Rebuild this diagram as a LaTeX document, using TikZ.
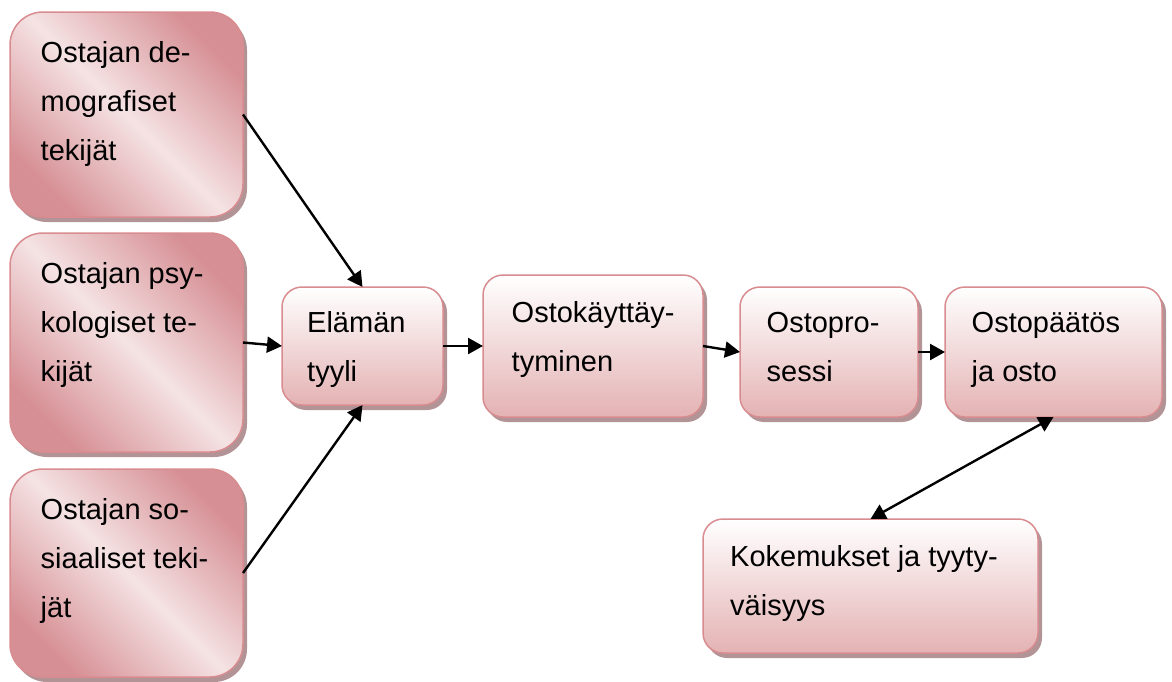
\documentclass[tikz,border=0pt]{standalone}
\usepackage{fontspec}
\setmainfont{Liberation Sans}
\usetikzlibrary{arrows.meta,shadows}

\definecolor{edgepink}{HTML}{D88C90}
\definecolor{shadowmauve}{HTML}{B39496}
\definecolor{deeppink}{HTML}{D68F94}
\definecolor{palepink}{HTML}{F5E3E4}
\definecolor{basepink}{HTML}{E4B2B3}

\tikzset{
  box/.style={rectangle, draw=edgepink, line width=1.5pt, outer sep=0pt, inner sep=0pt,
    anchor=north west,
    drop shadow={shadow xshift=4pt, shadow yshift=-5pt, fill=shadowmauve, opacity=1}},
  factor/.style={box, rounded corners=33pt,
    top color=deeppink, bottom color=deeppink, middle color=palepink, shading angle=-45},
  stage/.style={box, rounded corners=20pt, top color=white, bottom color=basepink},
  txt/.style={anchor=base west, inner sep=0pt, font=\fontsize{29}{49}\selectfont},
  link/.style={-{Triangle[length=15pt,width=16pt]}, line width=2.4pt},
  twoway/.style={{Triangle[length=15pt,width=16pt]}-{Triangle[length=15pt,width=16pt]}, line width=2.4pt},
}

\begin{document}
\begin{tikzpicture}[x=1pt, y=-1pt]
\useasboundingbox (0,0) rectangle (1172,681);

% factors on the left
\node[factor, minimum width=233pt, minimum height=205pt] (demo) at (10,12) {};
\node[factor, minimum width=233pt, minimum height=219pt] (psyk) at (10,233) {};
\node[factor, minimum width=233pt, minimum height=208pt] (sos)  at (10,469) {};

% stages of the process
\node[stage, minimum width=161pt, minimum height=118pt] (elama)    at (282,287) {};
\node[stage, minimum width=220pt, minimum height=142pt] (kaytt)    at (483,275) {};
\node[stage, minimum width=178pt, minimum height=130pt] (prosessi) at (740,287) {};
\node[stage, minimum width=217pt, minimum height=130pt] (paatos)   at (945,287) {};
\node[stage, minimum width=335pt, minimum height=134pt] (koke)     at (703,519) {};

% box texts
\node[txt] (tdemo) at (40.5,62.7) {\begin{tabular}[t]{@{}l@{}}Ostajan de-\\mografiset\\tekijät\end{tabular}};
\node[txt] (tpsyk) at (40.5,283.3) {\begin{tabular}[t]{@{}l@{}}Ostajan psy-\\kologiset te-\\kijät\end{tabular}};
\node[txt] (tsos)  at (40.5,519) {\begin{tabular}[t]{@{}l@{}}Ostajan so-\\siaaliset teki-\\jät\end{tabular}};
\node[txt] (telama) at (307,332.7) {\begin{tabular}[t]{@{}l@{}}Elämän\\tyyli\end{tabular}};
\node[txt] (tkaytt) at (511.5,322.7) {\begin{tabular}[t]{@{}l@{}}Ostokäyttäy-\\tyminen\end{tabular}};
\node[txt] (tprosessi) at (766.5,332.7) {\begin{tabular}[t]{@{}l@{}}Ostopro-\\sessi\end{tabular}};
\node[txt] (tpaatos) at (971.5,332.7) {\begin{tabular}[t]{@{}l@{}}Ostopäätös\\ja osto\end{tabular}};
\node[txt] (tkoke) at (730,566) {\begin{tabular}[t]{@{}l@{}}Kokemukset ja tyyty-\\väisyys\end{tabular}};

% connectors
\draw[link] (demo.east) -- (elama.north);
\draw[link] (psyk.east) -- (elama.west);
\draw[link] (sos.east) -- (elama.south);
\draw[link] (elama.east) -- (kaytt.west);
\draw[link] (kaytt.east) -- (prosessi.west);
\draw[link] (prosessi.east) -- (paatos.west);
\draw[twoway] (paatos.south) -- (koke.north);
\end{tikzpicture}
\end{document}
